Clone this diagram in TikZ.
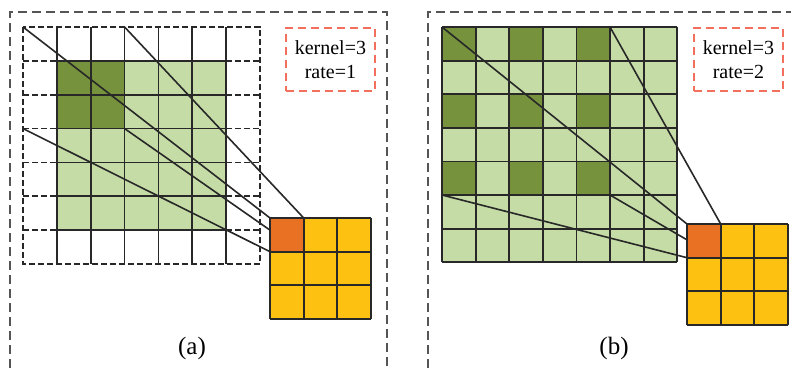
\documentclass[tikz,border=0pt]{standalone}
\usepackage{fontspec}
\setmainfont{Liberation Serif}
\usetikzlibrary{calc}
\definecolor{lgreen}{RGB}{197,220,166}
\definecolor{dgreen}{RGB}{118,146,60}
\definecolor{outorange}{RGB}{233,113,36}
\definecolor{outgold}{RGB}{253,193,18}
\definecolor{coral}{RGB}{242,112,92}
\definecolor{framegray}{RGB}{85,85,85}
\definecolor{linegray}{RGB}{40,40,40}
\tikzset{
  panelframe/.style={draw=framegray, line width=2pt, dash pattern=on 9pt off 5pt},
  cellline/.style={draw=linegray, line width=1.8pt},
  padline/.style={draw=linegray, line width=1.8pt, dash pattern=on 6pt off 3pt},
  infobox/.style={draw=coral, line width=1.8pt, dash pattern=on 8pt off 5pt,
    minimum width=89pt, minimum height=63pt, inner sep=0pt, anchor=north west,
    align=center, font=\fontsize{20}{24}\selectfont},
  outcell/.style={fill=outorange, inner sep=0pt, outer sep=0pt,
    minimum width=33.7pt, minimum height=33.7pt, anchor=north west},
  link/.style={draw=linegray, line width=1.6pt},
  caption/.style={font=\fontsize{25}{30}\selectfont}
}
\begin{document}
\begin{tikzpicture}[x=1pt,y=-1pt]
\useasboundingbox (0,0) rectangle (791,368);

% ---------- panel frames ----------
\draw[panelframe] (10,368) -- (10,12) -- (387,12) -- (387,368);
\draw[panelframe] (428,368) -- (428,12) -- (791,12);

% ---------- (a): padded 7x7 input, rate 1 ----------
\def\sa{33.86}
\fill[lgreen] (23+\sa,27+\sa) rectangle (23+6*\sa,27+6*\sa);
\fill[dgreen] (23+\sa,27+\sa) rectangle (23+3*\sa,27+3*\sa);
\foreach \i in {1,...,6} {
  \draw[cellline] (23+\i*\sa,27) -- (23+\i*\sa,27+7*\sa);
  \draw[padline] (23,27+\i*\sa) -- (23+\sa,27+\i*\sa);
  \draw[cellline] (23+\sa,27+\i*\sa) -- (23+6*\sa,27+\i*\sa);
  \draw[padline] (23+6*\sa,27+\i*\sa) -- (23+7*\sa,27+\i*\sa);
}
\draw[padline] (23,27) rectangle (23+7*\sa,27+7*\sa);

% output map (a)
\fill[outgold] (270,218) rectangle (371,319);
\node[outcell] (aout) at (270,218) {};
\foreach \i in {0,...,3} {
  \draw[cellline] (270+\i*33.67,218) -- (270+\i*33.67,319);
  \draw[cellline] (270,218+\i*33.67) -- (371,218+\i*33.67);
}
\node[infobox] (akern) at (285,27) {kernel=3\\rate=1};

% receptive field corners (a)
\coordinate (atl) at (23,27);
\coordinate (atr) at (23+3*\sa,27);
\coordinate (abl) at (23,27+3*\sa);
\coordinate (abr) at (23+3*\sa,27+3*\sa);
\draw[link] (atl) -- (aout.north west);
\draw[link] (atr) -- (aout.north east);
\draw[link] (abr) -- ($(aout.north west)!0.36!(aout.south west)$);
\draw[link] (abl) -- (aout.south west);
\node[caption] (acap) at (192,348) {(a)};

% ---------- (b): 7x7 input, rate 2 ----------
\def\sb{33.6}
\fill[lgreen] (442,27) rectangle (442+7*\sb,27+7*\sb);
\foreach \i in {0,2,4} {
  \foreach \j in {0,2,4} {
    \fill[dgreen] (442+\i*\sb,27+\j*\sb) rectangle (442+\i*\sb+\sb,27+\j*\sb+\sb);
  }
}
\foreach \i in {0,...,7} {
  \draw[cellline] (442+\i*\sb,27) -- (442+\i*\sb,27+7*\sb);
  \draw[cellline] (442,27+\i*\sb) -- (442+7*\sb,27+\i*\sb);
}

% output map (b)
\fill[outgold] (687,224) rectangle (788,325);
\node[outcell] (bout) at (687,224) {};
\foreach \i in {0,...,3} {
  \draw[cellline] (687+\i*33.67,224) -- (687+\i*33.67,325);
  \draw[cellline] (687,224+\i*33.67) -- (788,224+\i*33.67);
}
\node[infobox] (bkern) at (693,27) {kernel=3\\rate=2};

% receptive field corners (b)
\coordinate (btl) at (442,27);
\coordinate (btr) at (442+5*\sb,27);
\coordinate (bbl) at (442,27+5*\sb);
\coordinate (bbr) at (442+5*\sb,27+5*\sb);
\draw[link] (btl) -- (bout.north west);
\draw[link] (btr) -- (bout.north east);
\draw[link] (bbr) -- ($(bout.north west)!0.47!(bout.south west)$);
\draw[link] (bbl) -- (bout.south west);
\node[caption] (bcap) at (614,348) {(b)};
\end{tikzpicture}
\end{document}
